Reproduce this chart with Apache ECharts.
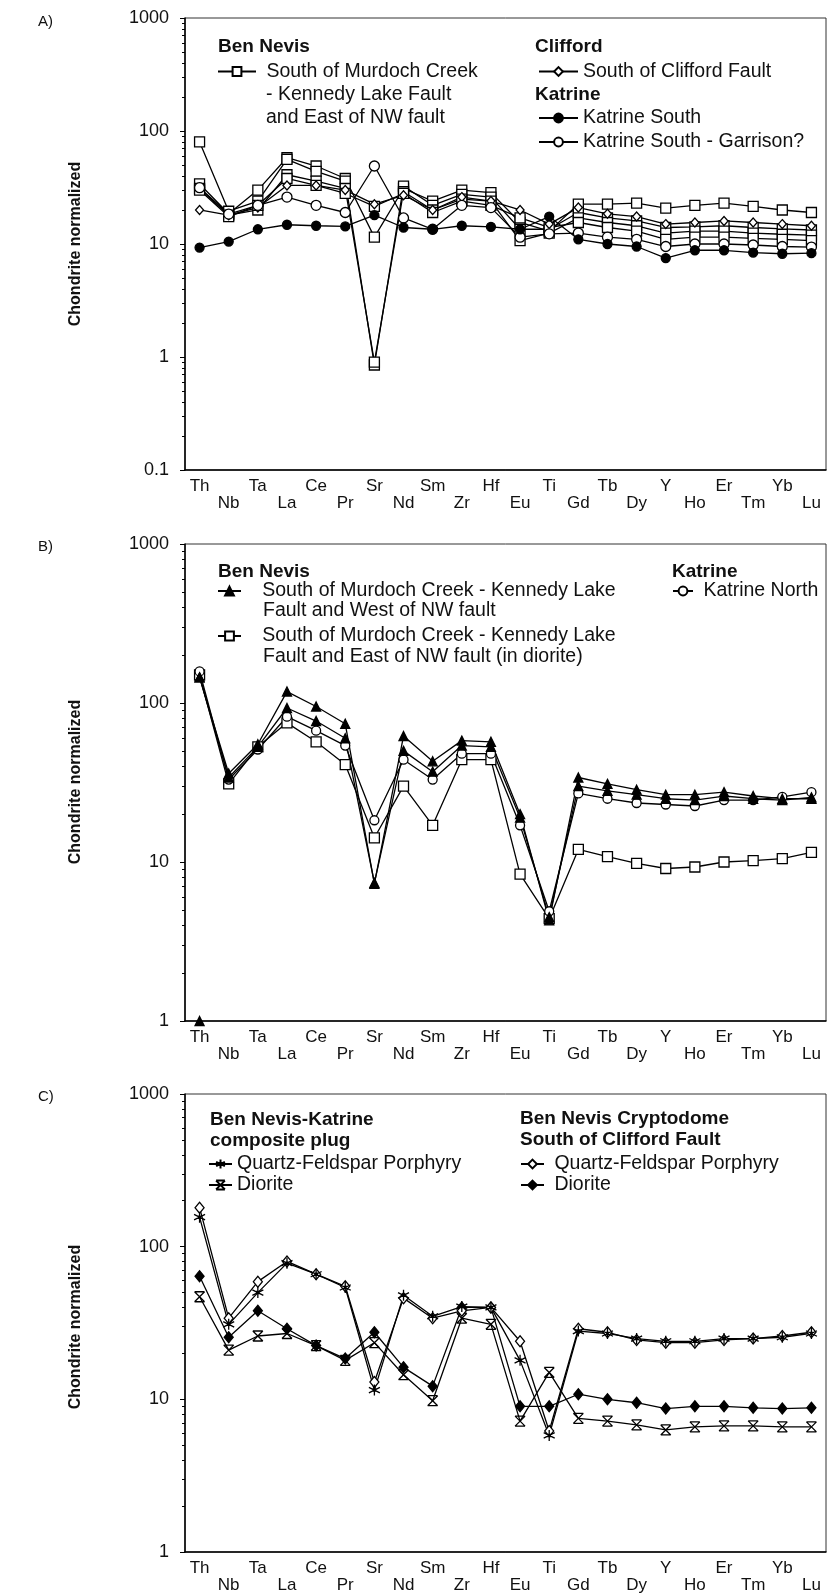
<!DOCTYPE html>
<html><head><meta charset="utf-8">
<script src="https://cdn.jsdelivr.net/npm/echarts@6/dist/echarts.min.js"></script>
<style>html,body{margin:0;padding:0;background:#fff}#c{width:831px;height:1594px}</style>
</head><body><div id="c"></div>
<script>
// ---------- DATA ----------
const elements = ['Th','Nb','Ta','La','Ce','Pr','Sr','Nd','Sm','Zr','Hf','Eu','Ti','Gd','Tb','Dy','Y','Ho','Er','Tm','Yb','Lu'];
const yTicksA = [0.1, 1, 10, 100, 1000];
const yTicksBC = [1, 10, 100, 1000];

// Panel A
const aBenNevisSq1 = [34, 18.5, 30, 58, 49, 38, 11.5, 31, 24, 30, 28.5, 15.5, 13, 22.5, 22.5, 23, 20.8, 22, 23, 21.5, 20, 19];
const aBenNevisSq2 = [80, 19.5, 24, 56, 44, 36, 0.85, 32.5, 22, 27.5, 26, 13.5, 13.5, 19, 17, 16, 14, 14.2, 14.5, 14, 13.6, 13.3];
const aBenNevisSq3 = [31, 18, 20, 41, 36, 31, 0.9, 29, 20, 25, 24, 10.7, 12.5, 17, 15.5, 14.5, 12.5, 13, 13, 12.5, 12.2, 12];
const aBenNevisSq4 = [30, 17.5, 22, 38, 33, 28, 21.5, 28, 19, 24, 22, 17, 14, 15.5, 14, 13, 11, 11.5, 11.5, 11.2, 11, 10.7];
const aClifford = [20, 18, 21, 33, 33, 30, 22.5, 27, 20, 26, 24, 20, 15, 21, 18.5, 17.5, 15, 15.5, 16, 15.5, 15, 14.5];
const aKatrineSouth = [9.3, 10.5, 13.5, 14.8, 14.5, 14.3, 18, 14, 13.5, 14.5, 14.2, 13.5, 17.5, 11, 10, 9.5, 7.5, 8.8, 8.8, 8.4, 8.2, 8.3];
const aGarrison = [31.5, 18.4, 22, 26, 22, 19, 49, 17, 13.5, 22, 21, 11.5, 12.3, 12.5, 11.5, 11, 9.5, 10, 10, 9.8, 9.5, 9.4];

// Panel B
const bWest1 = [145, 36, 55, 118, 95, 74, 7.3, 62, 43, 58, 57, 20, 4.3, 34, 31, 28.5, 26.5, 26.5, 27.5, 26, 25, 25];
const bWest2 = [145, 34, 53, 93, 77, 60, 7.4, 50, 37, 54, 53, 19, 4.5, 30, 28, 26.5, 25, 24.5, 26, 25, 24.5, 25.5];
const bWestThOnly = [1];
const bEastDiorite = [150, 31, 53, 75, 57, 41, 14.2, 30, 17, 44, 44, 8.4, 4.4, 12, 10.8, 9.8, 9.1, 9.3, 10, 10.2, 10.5, 11.5];
const bKatrineNorth = [158, 33, 51, 82, 67, 54, 18.3, 44, 33, 48, 48, 17, 4.9, 27, 25, 23.5, 23, 22.5, 24.5, 24.5, 25.7, 27.5];

// Panel C
const cPlugQFP = [156, 31, 50, 78, 66, 54, 11.5, 48, 35, 40.5, 40, 18, 5.8, 28, 27, 25, 24, 24, 25, 25, 25.5, 27];
const cPlugDiorite = [47, 21, 26, 27, 22.5, 18, 23.5, 14.5, 9.8, 34, 31, 7.2, 15, 7.5, 7.2, 6.8, 6.3, 6.6, 6.7, 6.7, 6.6, 6.6];
const cCryptoQFP = [180, 34, 59, 80, 66, 55, 13, 46, 34, 38, 40, 24, 6.2, 29, 27.5, 24.5, 23.5, 23.5, 24.5, 25, 26, 27.5];
const cCryptoDiorite = [64, 25.5, 38, 29, 22.5, 18.5, 27.5, 16.2, 12.2, 40, 40, 9, 9, 10.8, 10, 9.5, 8.7, 9, 9, 8.8, 8.7, 8.8];

// ---------- STYLE ----------
const FF = "'Liberation Sans', Arial, sans-serif";
const INK = '#111';
const grids = [
  {left: 185, top: 18, width: 641, height: 452},
  {left: 185, top: 544, width: 641, height: 477},
  {left: 185, top: 1094, width: 641, height: 467}
];
const PATH_STAR = 'path://M5 0L5 10M0.67 2.5L9.33 7.5M0.67 7.5L9.33 2.5M4 4L6 4L6 6L4 6Z';
const PATH_XBAR = 'path://M0 0L10 0M0 10L10 10M0 0L10 10M10 0L0 10';

function xAxis(i) {
  return {
    type: 'category', gridIndex: i, data: elements, boundaryGap: true,
    axisLine: {lineStyle: {color: '#000', width: 1.5}},
    axisTick: {length: 4, lineStyle: {color: '#000'}},
    axisLabel: {interval: 0, formatter: (v, idx) => (idx % 2 ? '\n' + v : v),
      fontFamily: FF, fontSize: 17, lineHeight: 17, color: INK, margin: 8},
    splitLine: {show: false}
  };
}
function yAxis(i, min, ticks) {
  return {
    type: 'log', logBase: 10, gridIndex: i, min: min, max: 1000,
    axisLine: {show: true, lineStyle: {color: '#000', width: 1.5}},
    axisTick: {show: true, length: 5, lineStyle: {color: '#000'}},
    minorTick: {show: true, splitNumber: 9, length: 3, lineStyle: {color: '#000'}},
    splitLine: {show: false},
    axisLabel: {fontFamily: FF, fontSize: 18, color: INK, margin: 16,
      formatter: v => (ticks.some(t => Math.abs(t - v) < 1e-9) ? String(v) : '')}
  };
}
function line(name, data, gi, symbol, size, filled, extra) {
  const s = {
    name: name, type: 'line', xAxisIndex: gi, yAxisIndex: gi, data: data,
    symbol: symbol, symbolSize: size, showSymbol: true, clip: false,
    lineStyle: {color: '#000', width: 1.3},
    itemStyle: {color: filled ? '#000' : '#fff', borderColor: '#000', borderWidth: 1.3},
    emphasis: {disabled: true}, animation: false, z: 2
  };
  return Object.assign(s, extra || {});
}

const N_A_SQ = 'A: South of Murdoch Creek - Kennedy Lake Fault and East of NW fault';
const N_A_CL = 'A: South of Clifford Fault';
const N_A_KS = 'A: Katrine South';
const N_A_KG = 'A: Katrine South - Garrison?';
const N_B_W = 'B: South of Murdoch Creek - Kennedy Lake Fault and West of NW fault';
const N_B_E = 'B: South of Murdoch Creek - Kennedy Lake Fault and East of NW fault (in diorite)';
const N_B_KN = 'B: Katrine North';
const N_C_PQ = 'C: Ben Nevis-Katrine composite plug - Quartz-Feldspar Porphyry';
const N_C_PD = 'C: Ben Nevis-Katrine composite plug - Diorite';
const N_C_CQ = 'C: Ben Nevis Cryptodome South of Clifford Fault - Quartz-Feldspar Porphyry';
const N_C_CD = 'C: Ben Nevis Cryptodome South of Clifford Fault - Diorite';

const series = [
  line(N_A_SQ, aBenNevisSq1, 0, 'rect', 10, false),
  line(N_A_SQ, aBenNevisSq2, 0, 'rect', 10, false),
  line(N_A_SQ, aBenNevisSq3, 0, 'rect', 10, false),
  line(N_A_SQ, aBenNevisSq4, 0, 'rect', 10, false),
  line(N_A_CL, aClifford, 0, 'diamond', [8, 9], false),
  line(N_A_KG, aGarrison, 0, 'circle', 10, false),
  line(N_A_KS, aKatrineSouth, 0, 'circle', 9, true),

  line(N_B_E, bEastDiorite, 1, 'rect', 10, false),
  line(N_B_KN, bKatrineNorth, 1, 'circle', 9, false),
  line(N_B_W, bWest2, 1, 'triangle', 9, true),
  line(N_B_W, bWest1, 1, 'triangle', 9, true),
  line(N_B_W + ' (Th only)', bWestThOnly, 1, 'triangle', 9, true),

  line(N_C_PD, cPlugDiorite, 2, PATH_XBAR, 10, true),
  line(N_C_CD, cCryptoDiorite, 2, 'diamond', [9, 11], true),
  line(N_C_CQ, cCryptoQFP, 2, 'diamond', [9, 11], false),
  line(N_C_PQ, cPlugQFP, 2, PATH_STAR, 11, true)
];

function leg(name, label, x, y, iw) {
  return {
    data: [name], left: x, top: y - 11.5, orient: 'vertical', padding: 0,
    itemWidth: iw, itemHeight: 11, selectedMode: false,
    formatter: () => label,
    textStyle: {fontFamily: FF, fontSize: 19.5, lineHeight: 23, color: INK}
  };
}
const legends = [
  leg(N_A_SQ, ' South of Murdoch Creek', 217, 71.5, 38),
  leg(N_A_CL, 'South of Clifford Fault', 538, 71.5, 39),
  leg(N_A_KS, 'Katrine South', 538, 118, 39),
  leg(N_A_KG, 'Katrine South - Garrison?', 538, 142, 39),
  leg(N_B_W, '   South of Murdoch Creek - Kennedy Lake', 217, 591, 23),
  leg(N_B_E, '   South of Murdoch Creek - Kennedy Lake', 217, 636, 23),
  leg(N_B_KN, ' Katrine North', 672, 591, 20),
  leg(N_C_PQ, 'Quartz-Feldspar Porphyry', 208, 1164, 23),
  leg(N_C_PD, 'Diorite', 208, 1185, 23),
  leg(N_C_CQ, ' Quartz-Feldspar Porphyry', 520, 1164, 23),
  leg(N_C_CD, ' Diorite', 520, 1185, 23)
];

function txt(s, x, y, opt) {
  opt = opt || {};
  return {
    type: 'text', x: x, y: y, rotation: opt.rot || 0, silent: true,
    style: {text: s, font: (opt.bold ? 'bold ' : '') + (opt.size || 19.5) + 'px ' + FF,
      fill: INK, align: opt.align || 'left', verticalAlign: 'middle'}
  };
}
const graphics = [
  txt('A)', 38, 22, {size: 15}), txt('B)', 38, 547, {size: 15}), txt('C)', 38, 1097, {size: 15}),
  txt('Chondrite normalized', 76, 244, {bold: true, size: 16, rot: Math.PI / 2, align: 'center'}),
  txt('Chondrite normalized', 76, 782, {bold: true, size: 16, rot: Math.PI / 2, align: 'center'}),
  txt('Chondrite normalized', 76, 1327, {bold: true, size: 16, rot: Math.PI / 2, align: 'center'}),
  // panel A legend text
  txt('Ben Nevis', 218, 47, {bold: true, size: 19}),
  txt('- Kennedy Lake Fault', 266, 95),
  txt('and East of NW fault', 266, 118),
  txt('Clifford', 535, 47, {bold: true, size: 19}),
  txt('Katrine', 535, 94.5, {bold: true, size: 19}),
  // panel B legend text
  txt('Ben Nevis', 218, 572, {bold: true, size: 19}),
  txt('Fault and West of NW fault', 263, 610.5),
  txt('Fault and East of NW fault (in diorite)', 263, 656.5),
  txt('Katrine', 672, 572, {bold: true, size: 19}),
  // panel C legend text
  txt('Ben Nevis-Katrine', 210, 1120, {bold: true, size: 19}),
  txt('composite plug', 210, 1140.5, {bold: true, size: 19}),
  txt('Ben Nevis Cryptodome', 520, 1119, {bold: true, size: 19}),
  txt('South of Clifford Fault', 520, 1140, {bold: true, size: 19})
];

const chart = echarts.init(document.getElementById('c'), null, {renderer: 'canvas'});
chart.setOption({
  backgroundColor: '#fff',
  animation: false,
  grid: grids.map(g => Object.assign({show: true, borderColor: '#333', borderWidth: 1, backgroundColor: 'transparent'}, g)),
  xAxis: [xAxis(0), xAxis(1), xAxis(2)],
  yAxis: [yAxis(0, 0.1, yTicksA), yAxis(1, 1, yTicksBC), yAxis(2, 1, yTicksBC)],
  legend: legends,
  graphic: graphics,
  series: series
});
</script></body></html>
